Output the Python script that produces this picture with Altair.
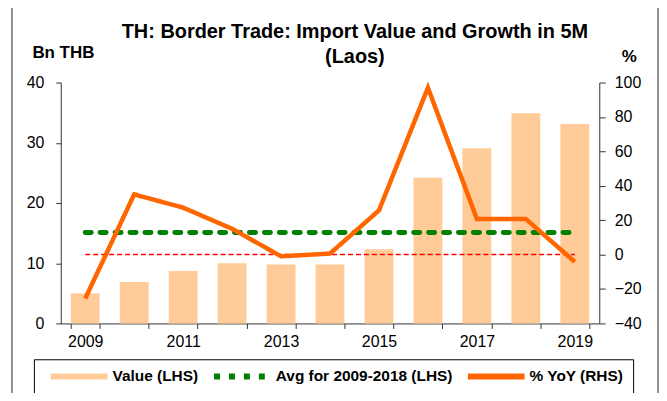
import altair as alt
import pandas as pd

years = ["2009", "2010", "2011", "2012", "2013", "2014", "2015", "2016", "2017", "2018", "2019"]
values = [5.0, 6.9, 8.7, 10.0, 9.8, 9.8, 12.3, 24.2, 29.1, 34.9, 33.1]
yoy = [-25.5, 35.0, 27.3, 15.0, -1.0, 0.6, 25.7, 97.0, 20.7, 20.7, -4.2]
avg_value = 15.1
series_names = ["Value (LHS)", "Avg for 2009-2018 (LHS)", "% YoY (RHS)"]
series_colors = ["#FFCC99", "#008000", "#FF6600"]
left_ticks = [0, 10, 20, 30, 40]
right_ticks = [-40, -20, 0, 20, 40, 60, 80, 100]

FONT = "Liberation Sans"
AXIS_COLOR = "#333333"

df_bar = pd.DataFrame({"year": years, "value": values, "series": series_names[0]})
df_avg = pd.DataFrame({"year": years, "avg": [avg_value] * len(years), "series": series_names[1]})
df_yoy = pd.DataFrame({"year": years, "yoy": yoy, "series": series_names[2]})
df_zero = pd.DataFrame({"year": [years[0], years[-1]], "zero": [0, 0]})

x_enc = alt.X(
    "year:O",
    scale=alt.Scale(domain=years, paddingInner=0.41, paddingOuter=0.205),
    axis=alt.Axis(
        title=None, tickBand="extent", labelAngle=0,
        labelExpr="toNumber(datum.value) % 2 == 1 ? datum.value : ''",
        labelFont=FONT, labelFontSize=16, labelColor="black",
        tickSize=5, labelPadding=5, domainColor=AXIS_COLOR, tickColor=AXIS_COLOR,
        grid=False,
    ),
)

color_scale = alt.Scale(domain=series_names, range=series_colors)
dash_scale = alt.Scale(domain=series_names, range=[[1, 0], [6, 9], [1, 0]])
legend = alt.Legend(
    title=None, orient="none", legendX=-27, legendY=278, direction="horizontal",
    symbolType="stroke", symbolSize=3249, symbolStrokeWidth=6, clipHeight=16,
    labelFont=FONT, labelFontSize=15.5, labelFontWeight="bold", labelColor="black",
    labelLimit=300,
    strokeColor="black", fillColor="white", padding=9, symbolOffset=5,
    labelOffset=2, columnPadding=7,
)
color_enc = alt.Color("series:N", scale=color_scale, legend=legend)
dash_enc = alt.StrokeDash("series:N", scale=dash_scale, legend=legend)

left_axis = alt.Axis(
    orient="left", values=left_ticks, title="Bn THB", titleAngle=0,
    titleAlign="left", titleBaseline="alphabetic", titleX=-29, titleY=-25,
    titleFont=FONT, titleFontSize=17, titleFontWeight="bold", titleColor="black",
    labelFont=FONT, labelFontSize=16, labelColor="black",
    tickSize=5, labelPadding=12, domainColor=AXIS_COLOR, tickColor=AXIS_COLOR, grid=False,
)
right_axis = alt.Axis(
    orient="right", values=right_ticks, title="%", titleAngle=0,
    titleAlign="left", titleBaseline="alphabetic", titleX=22, titleY=-21,
    titleFont=FONT, titleFontSize=17, titleFontWeight="bold", titleColor="black",
    labelFont=FONT, labelFontSize=16, labelColor="black",
    tickSize=6, labelPadding=9, domainColor=AXIS_COLOR, tickColor=AXIS_COLOR, grid=False,
)

bars = alt.Chart(df_bar).mark_bar(color=series_colors[0]).encode(
    x=x_enc,
    y=alt.Y("value:Q", scale=alt.Scale(domain=[0, 40]), axis=left_axis),
    color=color_enc,
    strokeDash=dash_enc,
)

avg_line = alt.Chart(df_avg).mark_line(strokeWidth=5, strokeCap="round").encode(
    x=x_enc,
    y=alt.Y("avg:Q", scale=alt.Scale(domain=[0, 40]), axis=None),
    color=color_enc,
    strokeDash=dash_enc,
)

zero_line = alt.Chart(df_zero).mark_line(color="#FF0000", strokeWidth=1.5, strokeDash=[5, 3]).encode(
    x=x_enc,
    y=alt.Y("zero:Q", scale=alt.Scale(domain=[-40, 100]), axis=None),
)

yoy_line = alt.Chart(df_yoy).mark_line(strokeWidth=4.5, strokeJoin="miter").encode(
    x=x_enc,
    y=alt.Y("yoy:Q", scale=alt.Scale(domain=[-40, 100]), axis=right_axis),
    color=color_enc,
    strokeDash=dash_enc,
)

frame = alt.Chart(pd.DataFrame({"f": [0]})).mark_rect(
    fillOpacity=0, stroke="#222222", strokeWidth=1
).encode(
    x=alt.value(-49), x2=alt.value(600), y=alt.value(-76), y2=alt.value(340)
)

chart = alt.layer(frame, bars, avg_line, zero_line, yoy_line).resolve_scale(
    y="independent"
).properties(
    width=541, height=242,
    title=alt.Title(
        ["TH: Border Trade: Import Value and Growth in 5M", "(Laos)"],
        font=FONT, fontSize=20, fontWeight="bold", color="black",
        anchor="middle", frame="group", dx=25, dy=75, lineHeight=25, offset=14,
    ),
    autosize=alt.AutoSizeParams(type="none"),
    padding={"left": 53, "top": 74, "right": 60, "bottom": 69},
    background="white",
).configure_view(stroke=None)

chart.save("out.html", embed_options={"renderer": "svg", "actions": False})
